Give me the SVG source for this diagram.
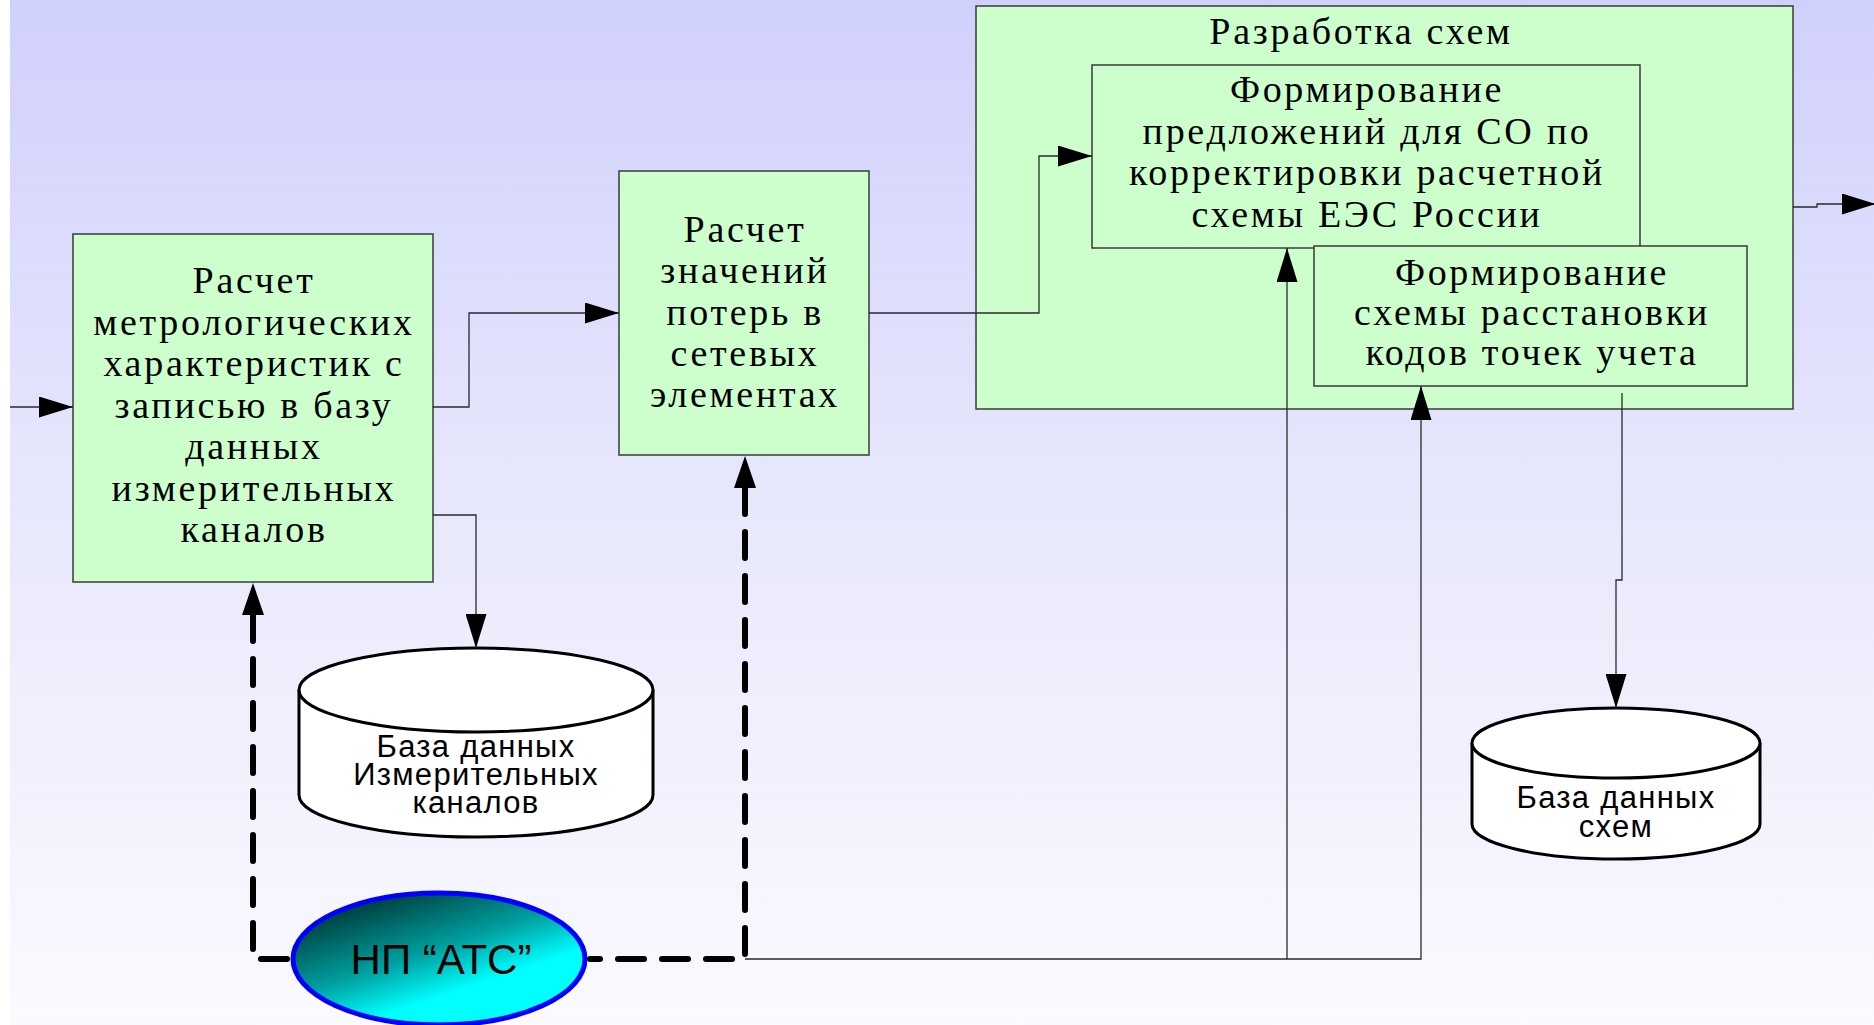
<svg xmlns="http://www.w3.org/2000/svg" width="1874" height="1025" viewBox="0 0 1874 1025">
<defs>
<linearGradient id="bg" x1="0" y1="0" x2="0" y2="1">
<stop offset="0" stop-color="#D0D0FD"/>
<stop offset="0.5" stop-color="#E8E8FC"/>
<stop offset="1" stop-color="#FAFAFF"/>
</linearGradient>
<linearGradient id="np" x1="0.15" y1="0.1" x2="0.7" y2="0.85">
<stop offset="0" stop-color="#003838"/>
<stop offset="0.5" stop-color="#00A0A0"/>
<stop offset="0.82" stop-color="#00FFFF"/>
<stop offset="1" stop-color="#00FFFF"/>
</linearGradient>
<marker id="ah" markerUnits="userSpaceOnUse" markerWidth="34" markerHeight="21" refX="34" refY="10.5" orient="auto">
<path d="M0,0 L34,10.5 L0,21 z" fill="#000"/>
</marker>
<marker id="ahs" markerUnits="userSpaceOnUse" markerWidth="32" markerHeight="22" refX="0" refY="11" orient="auto-start-reverse">
<path d="M0,0 L32,11 L0,22 z" fill="#000"/>
</marker>
</defs>
<style>
.box{fill:#CCFFCC;stroke:#3a3a3a;stroke-width:1.5}
.st{font-family:"Liberation Serif","Times New Roman",serif;font-size:38px;letter-spacing:2.7px;fill:#000;text-anchor:middle}
.ss{font-family:"Liberation Sans",Arial,sans-serif;font-size:31px;letter-spacing:1.3px;fill:#000;text-anchor:middle}
.db{fill:#FFFFFF;stroke:#000;stroke-width:3}
.ln{fill:none;stroke:#2a2a2a;stroke-width:1.3}
.dl{fill:none;stroke:#000;stroke-width:6;stroke-dasharray:26 18;stroke-linecap:round}
</style>
<rect x="0" y="0" width="1874" height="1025" fill="url(#bg)"/>
<rect x="0" y="0" width="10" height="1025" fill="#FFFFFF"/>

<g id="container">
<rect class="box" x="976" y="6" width="817" height="403"/>
<text class="st" x="1361" y="44">Разработка схем</text>
</g>

<g id="box1">
<rect class="box" x="73" y="234" width="360" height="348"/>
<text class="st" x="254" y="293">Расчет</text>
<text class="st" x="254" y="334.5">метрологических</text>
<text class="st" x="254" y="376">характеристик с</text>
<text class="st" x="254" y="417.5">записью в базу</text>
<text class="st" x="254" y="459">данных</text>
<text class="st" x="254" y="500.5">измерительных</text>
<text class="st" x="254" y="542">каналов</text>
</g>

<g id="box2">
<rect class="box" x="619" y="171" width="250" height="284"/>
<text class="st" x="745" y="242">Расчет</text>
<text class="st" x="745" y="283">значений</text>
<text class="st" x="745" y="324.5">потерь в</text>
<text class="st" x="745" y="366">сетевых</text>
<text class="st" x="745" y="407">элементах</text>
</g>

<g id="boxA">
<rect class="box" x="1092" y="65" width="548" height="183"/>
<text class="st" x="1367" y="102">Формирование</text>
<text class="st" x="1367" y="143.5">предложений для СО по</text>
<text class="st" x="1367" y="185">корректировки расчетной</text>
<text class="st" x="1367" y="226.5">схемы ЕЭС России</text>
</g>

<g id="boxB">
<rect class="box" x="1314" y="246" width="433" height="140"/>
<text class="st" x="1532" y="285">Формирование</text>
<text class="st" x="1532" y="325">схемы расстановки</text>
<text class="st" x="1532" y="365">кодов точек учета</text>
</g>

<g id="db1">
<path class="db" d="M299,690 A177,42 0 0 1 653,690 V795 A177,42 0 0 1 299,795 Z"/>
<path class="db" fill="none" d="M299,690 A177,42 0 0 0 653,690"/>
<text class="ss" x="476" y="757">База данных</text>
<text class="ss" x="476" y="785">Измерительных</text>
<text class="ss" x="476" y="813">каналов</text>
</g>

<g id="db2">
<path class="db" d="M1472,743 A144,35 0 0 1 1760,743 V824 A144,35 0 0 1 1472,824 Z"/>
<path class="db" fill="none" d="M1472,743 A144,35 0 0 0 1760,743"/>
<text class="ss" x="1616" y="808">База данных</text>
<text class="ss" x="1616" y="837">схем</text>
</g>

<g id="connectors">
<path class="ln" d="M10,407 H73" marker-end="url(#ah)"/>
<path class="ln" d="M433,407 H469 V313 H619" marker-end="url(#ah)"/>
<path class="ln" d="M433,515 H476 V648" marker-end="url(#ah)"/>
<path class="ln" d="M869,313 H1039 V156 H1092" marker-end="url(#ah)"/>
<path class="ln" d="M1793,207 H1817 V204 H1876" marker-end="url(#ah)"/>
<path class="ln" d="M1622,393 V580 H1616 V708" marker-end="url(#ah)"/>
<path class="ln" d="M745,959 H1421 V386" marker-end="url(#ah)"/>
<path class="ln" d="M1287,959 V248" marker-end="url(#ah)"/>
<path class="dl" d="M253,615 V959 H290" marker-start="url(#ahs)"/>
<path class="dl" d="M745,488 V959 H590" marker-start="url(#ahs)"/>
</g>

<g id="np">
<ellipse cx="439" cy="959" rx="146" ry="66" fill="url(#np)" stroke="#0000FF" stroke-width="5"/>
<text x="441" y="974" font-family="'Liberation Sans',Arial,sans-serif" font-size="42" text-anchor="middle" fill="#000">НП “АТС”</text>
</g>
</svg>
